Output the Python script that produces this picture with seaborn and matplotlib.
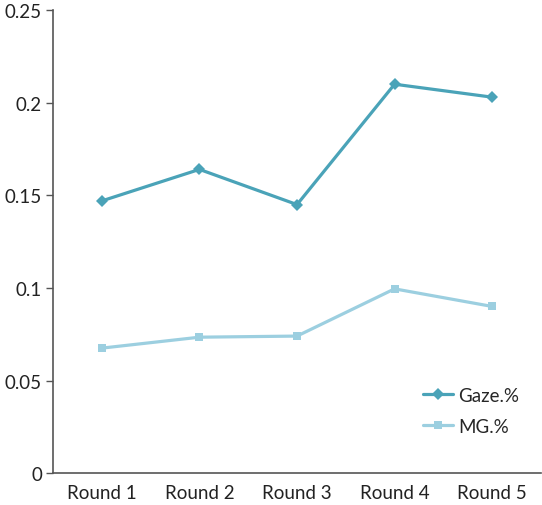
import numpy as np
import pandas as pd
import matplotlib
matplotlib.use("Agg")
import matplotlib.pyplot as plt
import seaborn as sns

# data
rounds = ["Round 1", "Round 2", "Round 3", "Round 4", "Round 5"]
gaze = [0.147, 0.164, 0.145, 0.210, 0.203]
mg = [0.0675, 0.0734, 0.074, 0.0995, 0.090]

df = pd.DataFrame({
    "round": rounds * 2,
    "value": gaze + mg,
    "series": ["Gaze.%"] * len(rounds) + ["MG.%"] * len(rounds),
})

sns.set_style("white")
plt.rcParams["font.family"] = ["Lato", "DejaVu Sans"]

fig = plt.figure(figsize=(5.42, 5.06), dpi=100)
ax = fig.add_axes([0.098, 0.063, 0.90, 0.915])

sns.lineplot(
    data=df, x="round", y="value", hue="series", style="series",
    markers={"Gaze.%": "D", "MG.%": "s"}, dashes=False,
    palette={"Gaze.%": "#4aa3b8", "MG.%": "#9ccfe0"},
    linewidth=2.3, markersize=6, markeredgewidth=0, ax=ax,
)

ax.set_xlim(-0.5, 4.5)
ax.set_ylim(0, 0.25)
ax.set_yticks([0, 0.05, 0.1, 0.15, 0.2, 0.25])
ax.set_yticklabels(["0", "0.05", "0.1", "0.15", "0.2", "0.25"])
ax.set_xlabel("")
ax.set_ylabel("")

# Excel-like category ticks between groups
ax.set_xticks(np.arange(-0.5, 5, 1), minor=True)
ax.tick_params(axis="x", which="major", length=0, labelsize=13.5, colors="#222222", pad=8)
ax.tick_params(axis="x", which="minor", length=5, width=1, color="#555555", direction="out")
ax.tick_params(axis="y", length=5, width=1, color="#555555", labelsize=13.5, labelcolor="#222222", left=True, pad=3)

for s in ["top", "right"]:
    ax.spines[s].set_visible(False)
for s in ["left", "bottom"]:
    ax.spines[s].set_color("#555555")
    ax.spines[s].set_linewidth(1.2)

ax.legend(title=None, frameon=False, loc="center right", bbox_to_anchor=(0.99, 0.135),
          fontsize=13.5, handlelength=1.6, handletextpad=0.3, labelspacing=0.75)

fig.savefig("out.png", dpi=100)
